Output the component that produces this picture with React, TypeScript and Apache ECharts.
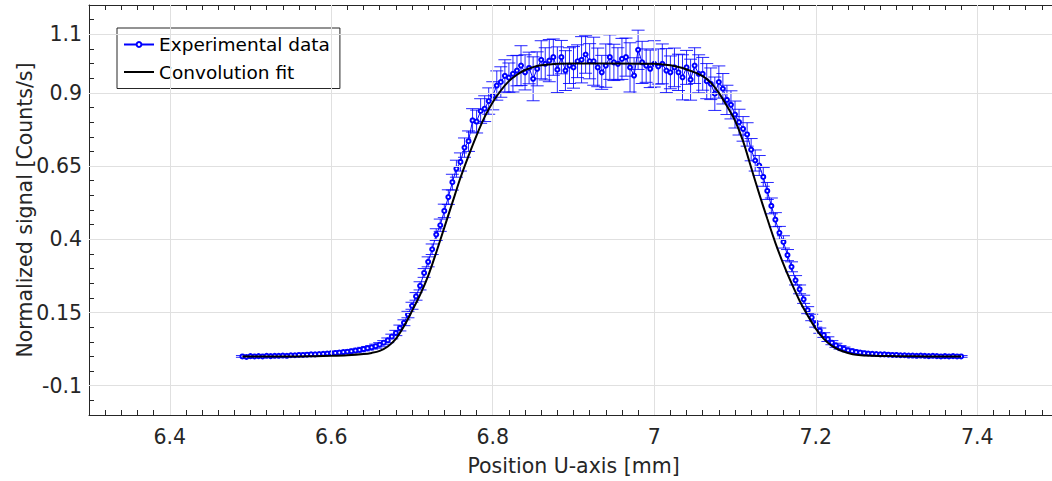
import React, { useEffect, useRef } from "react";
import * as echarts from "echarts";

// Experimental data sampled on a regular grid (start + step * index)
const X_START = 6.49;
const X_STEP = 0.005;

const expY = [
  0.0, -0.002, 0.001, 0.0, 0.001, 0.0, 0.002, 0.001, 0.002, 0.002,
  0.003, 0.002, 0.004, 0.004, 0.005, 0.005, 0.006, 0.007, 0.007, 0.008,
  0.009, 0.01, 0.011, 0.012, 0.013, 0.015, 0.016, 0.018, 0.02, 0.022,
  0.025, 0.028, 0.031, 0.035, 0.04, 0.047, 0.055, 0.068, 0.08, 0.097,
  0.115, 0.143, 0.173, 0.205, 0.241, 0.285, 0.323, 0.366, 0.416, 0.448,
  0.497, 0.544, 0.595, 0.641, 0.664, 0.713, 0.735, 0.806, 0.802, 0.838,
  0.846, 0.872, 0.89, 0.925, 0.937, 0.958, 0.952, 0.965, 0.976, 0.993,
  0.97, 0.985, 0.948, 0.982, 1.013, 0.999, 1.01, 1.022, 0.979, 1.022,
  0.976, 0.993, 0.987, 1.008, 1.013, 1.031, 1.008, 1.008, 0.987, 0.97,
  0.993, 1.022, 1.004, 0.999, 1.016, 1.022, 0.987, 0.959, 1.047, 1.004,
  0.993, 0.982, 0.999, 0.99, 0.999, 0.976, 0.97, 0.987, 0.97, 0.953,
  0.987, 0.945, 0.993, 0.965, 0.965, 0.94, 0.931, 0.897, 0.937, 0.914,
  0.876, 0.859, 0.826, 0.8, 0.777, 0.758, 0.706, 0.669, 0.652, 0.613,
  0.565, 0.514, 0.467, 0.422, 0.391, 0.346, 0.306, 0.26, 0.229, 0.195,
  0.158, 0.133, 0.11, 0.088, 0.073, 0.059, 0.047, 0.038, 0.031, 0.026,
  0.021, 0.018, 0.015, 0.013, 0.011, 0.01, 0.009, 0.008, 0.007, 0.007,
  0.006, 0.005, 0.005, 0.004, 0.004, 0.003, 0.003, 0.002, 0.003, 0.002,
  0.001, 0.002, 0.001, 0.0, 0.001, 0.0, 0.001, 0.0, 0.0,
];

const expErr = [
  0.003, 0.003, 0.003, 0.003, 0.003, 0.003, 0.003, 0.003, 0.003, 0.003,
  0.003, 0.003, 0.003, 0.003, 0.004, 0.004, 0.004, 0.004, 0.004, 0.004,
  0.004, 0.004,
  0.004, 0.004, 0.005, 0.005, 0.005, 0.005, 0.005, 0.006, 0.006, 0.006,
  0.006, 0.007, 0.007, 0.007, 0.008, 0.008, 0.009, 0.01,
  0.01, 0.011, 0.012, 0.013, 0.014, 0.015, 0.017, 0.018, 0.02, 0.021,
  0.023, 0.025, 0.027, 0.029, 0.031, 0.033, 0.035, 0.04, 0.039, 0.042,
  0.044, 0.045, 0.048, 0.05, 0.052,
  0.055, 0.05, 0.062, 0.052, 0.068, 0.06, 0.054, 0.075, 0.058, 0.065,
  0.055, 0.072, 0.062, 0.078, 0.057, 0.068, 0.061, 0.071, 0.056, 0.079,
  0.064, 0.06, 0.082, 0.066, 0.058, 0.074, 0.076, 0.062, 0.055, 0.07,
  0.065, 0.084, 0.061, 0.067, 0.072, 0.057, 0.064, 0.079, 0.06, 0.068,
  0.075, 0.056, 0.066, 0.062, 0.077, 0.058, 0.07, 0.061, 0.065,
  0.056, 0.06, 0.054, 0.057, 0.055, 0.052, 0.05, 0.048, 0.046, 0.044,
  0.042, 0.04, 0.038, 0.036, 0.034, 0.032, 0.029, 0.027, 0.024, 0.022,
  0.021, 0.019, 0.017, 0.016, 0.015, 0.014, 0.012, 0.011, 0.01, 0.009,
  0.008, 0.008, 0.007,
  0.007, 0.006, 0.006, 0.005, 0.005, 0.005, 0.005, 0.004, 0.004, 0.004,
  0.004, 0.004, 0.004, 0.004, 0.003, 0.003, 0.003, 0.003, 0.003, 0.003,
  0.003, 0.003, 0.003, 0.003, 0.003, 0.003, 0.003, 0.003, 0.003, 0.003,
  0.003, 0.003,
];

const fitX = [
  6.49, 6.52, 6.55, 6.58, 6.6, 6.62, 6.64, 6.65, 6.66, 6.67,
  6.68, 6.69, 6.7, 6.71, 6.72, 6.73, 6.74, 6.75, 6.76, 6.77,
  6.78, 6.79, 6.8, 6.81, 6.82, 6.83, 6.84, 6.85, 6.86, 6.87,
  6.88, 6.9, 6.95, 7.0, 7.01, 7.02, 7.03, 7.04, 7.05, 7.06,
  7.07, 7.08, 7.09, 7.1, 7.11, 7.12, 7.13, 7.14, 7.15, 7.16,
  7.17, 7.18, 7.19, 7.2, 7.21, 7.22, 7.23, 7.24, 7.25, 7.27,
  7.3, 7.34, 7.38,
];
const fitY = [
  0, 0, 0, 0.001, 0.002, 0.004, 0.008, 0.012, 0.019, 0.034,
  0.06, 0.103, 0.155, 0.21, 0.275, 0.355, 0.44, 0.525, 0.61, 0.685,
  0.755, 0.818, 0.868, 0.908, 0.94, 0.962, 0.978, 0.988, 0.994, 0.997,
  0.999, 1.0, 1.0, 0.999, 0.997, 0.994, 0.988, 0.98, 0.97, 0.957,
  0.935, 0.9, 0.855, 0.805, 0.735, 0.645, 0.555, 0.47, 0.388, 0.315,
  0.25, 0.19, 0.14, 0.095, 0.06, 0.036, 0.021, 0.012, 0.006, 0.002,
  0.001, 0, 0,
];

const xTickLabels = [6.4, 6.6, 6.8, 7.0, 7.2, 7.4];
const yTickLabels = [-0.1, 0.15, 0.4, 0.65, 0.9, 1.1];
const X_MIN = 6.3;
const X_MAX = 7.5;
const Y_MIN = -0.2;
const Y_MAX = 1.2;

const FONT = "DejaVu Sans";
const AXIS_COLOR = "#262626";
const GRID_COLOR = "#e0e0e0";

export default function App() {
  const ref = useRef<HTMLDivElement>(null);

  useEffect(() => {
    if (!ref.current) return;
    const chart = echarts.init(ref.current, null, { renderer: "svg" });

    const n = Math.min(expY.length, expErr.length);
    const expX: number[] = [];
    for (let i = 0; i < n; i++) expX.push(+(X_START + i * X_STEP).toFixed(4));
    const expData = expX.map((x, i) => [x, expY[i]]);
    const errData = expX.map((x, i) => [x, expY[i] - expErr[i], expY[i] + expErr[i]]);
    const fitData = fitX.map((x, i) => [x, fitY[i]]);

    const fmt = (v: number) => String(+v.toFixed(3));
    const tickLine = { color: AXIS_COLOR, width: 1 };

    const xBase = { type: "value" as const, min: X_MIN, max: X_MAX, gridIndex: 0 };
    const yBase = { type: "value" as const, min: Y_MIN, max: Y_MAX, gridIndex: 0 };

    const majorX = (position: string, withLabels: boolean) => ({
      ...xBase,
      position,
      axisLine: { show: true, onZero: false, lineStyle: tickLine },
      axisTick: { show: true, inside: true, length: 10, customValues: xTickLabels, lineStyle: tickLine },
      axisLabel: withLabels
        ? { show: true, customValues: xTickLabels, formatter: fmt, fontSize: 20.5, fontFamily: FONT, color: AXIS_COLOR, margin: 11 }
        : { show: false },
      splitLine: { show: false },
    });
    const minorX = (position: string) => ({
      ...xBase,
      position,
      interval: 0.02,
      axisLine: { show: false, onZero: false },
      axisTick: { show: true, inside: true, length: 5, lineStyle: tickLine },
      axisLabel: { show: false },
      splitLine: { show: false },
    });
    const majorY = (position: string, withLabels: boolean) => ({
      ...yBase,
      position,
      axisLine: { show: true, onZero: false, lineStyle: tickLine },
      axisTick: { show: true, inside: true, length: 10, customValues: yTickLabels, lineStyle: tickLine },
      axisLabel: withLabels
        ? { show: true, customValues: yTickLabels, formatter: fmt, fontSize: 20.5, fontFamily: FONT, color: AXIS_COLOR, margin: 7 }
        : { show: false },
      splitLine: { show: false },
    });
    const minorY = (position: string) => ({
      ...yBase,
      position,
      interval: 0.05,
      axisLine: { show: false, onZero: false },
      axisTick: { show: true, inside: true, length: 5, lineStyle: tickLine },
      axisLabel: { show: false },
      splitLine: { show: false },
    });

    const option: any = {
      animation: false,
      backgroundColor: "#ffffff",
      textStyle: { fontFamily: FONT },
      grid: {
        left: 89,
        top: 5,
        right: -6,
        bottom: 66,
        containLabel: false,
        outerBoundsMode: "none",
      },
      xAxis: [
        {
          ...majorX("bottom", true),
          name: "Position U-axis [mm]",
          nameLocation: "middle",
          nameGap: 40,
          nameMoveOverlap: false,
          nameTextStyle: { fontSize: 20.5, fontFamily: FONT, color: AXIS_COLOR },
        },
        minorX("bottom"),
        majorX("top", false),
        minorX("top"),
      ],
      yAxis: [
        {
          ...majorY("left", true),
          name: "Normalized signal [Counts/s]",
          nameLocation: "middle",
          nameRotate: 90,
          nameGap: 54,
          nameMoveOverlap: false,
          nameTextStyle: { fontSize: 20.5, fontFamily: FONT, color: AXIS_COLOR },
        },
        minorY("left"),
        majorY("right", false),
        minorY("right"),
      ],
      legend: {
        data: ["Experimental data", "Convolution fit"],
        orient: "vertical",
        left: 117,
        top: 28,
        itemWidth: 30,
        itemHeight: 6,
        itemGap: 8.5,
        padding: [7, 10, 7, 6],
        borderColor: AXIS_COLOR,
        borderWidth: 1,
        borderRadius: 0,
        backgroundColor: "#ffffff",
        selectedMode: false,
        textStyle: { fontFamily: FONT, fontSize: 18.5, color: "#000000" },
      },
      series: [
        {
          type: "line",
          name: "grid",
          data: [],
          xAxisIndex: 0,
          yAxisIndex: 0,
          silent: true,
          z: 1,
          markLine: {
            silent: true,
            symbol: ["none", "none"],
            label: { show: false },
            emphasis: { disabled: true },
            lineStyle: { color: GRID_COLOR, width: 1, type: "solid" },
            data: [
              ...xTickLabels.map((v) => ({ xAxis: v })),
              ...yTickLabels.map((v) => ({ yAxis: v })),
            ],
          },
        },
        {
          type: "custom",
          name: "errorbars",
          xAxisIndex: 0,
          yAxisIndex: 0,
          silent: true,
          z: 3,
          encode: { x: 0, y: [1, 2] },
          data: errData,
          renderItem: (_params: any, api: any) => {
            const x = api.value(0);
            const lo = api.value(1);
            const hi = api.value(2);
            const pHi = api.coord([x, hi]);
            const pLo = api.coord([x, lo]);
            const w = 6.5;
            const style = { stroke: "rgba(0,0,255,0.85)", lineWidth: 1, fill: null };
            return {
              type: "group",
              children: [
                { type: "line", shape: { x1: pHi[0], y1: pHi[1], x2: pLo[0], y2: pLo[1] }, style },
                { type: "line", shape: { x1: pHi[0] - w, y1: pHi[1], x2: pHi[0] + w, y2: pHi[1] }, style },
                { type: "line", shape: { x1: pLo[0] - w, y1: pLo[1], x2: pLo[0] + w, y2: pLo[1] }, style },
              ],
            };
          },
        },
        {
          type: "line",
          name: "Experimental data",
          data: expData,
          xAxisIndex: 0,
          yAxisIndex: 0,
          z: 4,
          symbol: "emptyCircle",
          symbolSize: 4,
          showSymbol: true,
          showAllSymbol: true,
          color: "#0000ff",
          itemStyle: { color: "#0000ff", borderColor: "#0000ff", borderWidth: 1 },
          lineStyle: { color: "#0000ff", width: 1 },
          emphasis: { disabled: true },
        },
        {
          type: "line",
          name: "Convolution fit",
          data: fitData,
          xAxisIndex: 0,
          yAxisIndex: 0,
          z: 5,
          symbol: "circle",
          showSymbol: false,
          smooth: 0.3,
          color: "#000000",
          itemStyle: { color: "rgba(0,0,0,0)", borderWidth: 0 },
          lineStyle: { color: "#000000", width: 2 },
          emphasis: { disabled: true },
        },
      ],
    };

    chart.setOption(option);
    return () => {
      chart.dispose();
    };
  }, []);

  return (
    <div
      ref={ref}
      style={{ position: "fixed", left: 0, top: 0, width: 1052, height: 481 }}
    />
  );
}
